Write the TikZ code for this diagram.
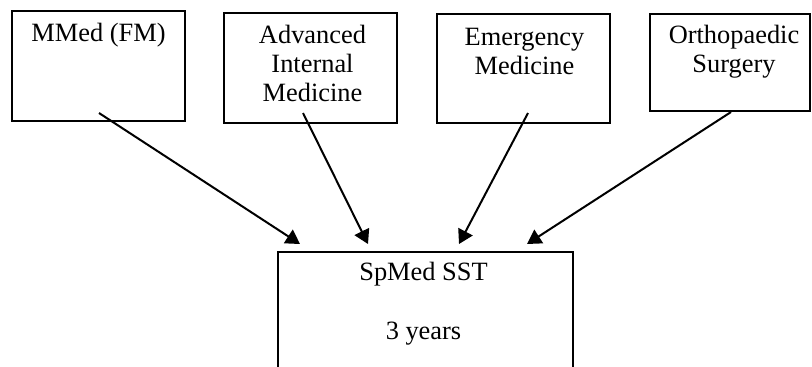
\documentclass[tikz,border=0pt]{standalone}
\usepackage{fontspec}
\setmainfont{Liberation Serif}
\usetikzlibrary{arrows.meta,calc}

\begin{document}
\begin{tikzpicture}[x=0.5pt,y=-0.5pt,
    box/.style={draw,line width=1pt,inner sep=0pt},
    boxtext/.style={anchor=north,inner sep=0pt,align=center,font=\fontsize{13.2}{14.5}\selectfont},
    feed/.style={-{Triangle[length=7pt,width=8pt]},line width=1pt}]
    %\draw[help lines] (0,0) grid (812,366);
    \clip (0,0) rectangle (812,366);

    % programmes on top
    \node[box,minimum width=86.5pt,minimum height=55pt] (mmed) at (98.5,66) {};
    \node[box,minimum width=86.5pt,minimum height=55pt] (aim) at (310.5,68) {};
    \node[box,minimum width=86.5pt,minimum height=54.5pt] (em) at (523.5,68.5) {};
    \node[box,minimum width=80pt,minimum height=48.5pt] (ortho) at (730,62.5) {};
    % target programme
    \node[box,minimum width=147.5pt,minimum height=60pt] (sst) at (425.5,312) {};

    \node[boxtext] (mmedtxt) at ($(mmed.north)+(0,11)$) {\strut MMed (FM)};
    \node[boxtext] (aimtxt) at ($(aim.north)+(2,11)$) {\strut Advanced\\Internal\\Medicine};
    \node[boxtext] (emtxt) at ($(em.north)+(1,12)$) {\strut Emergency\\Medicine};
    \node[boxtext] (orthotxt) at ($(ortho.north)+(4,10)$) {\strut Orthopaedic\\Surgery};
    \node[boxtext] (ssttxt) at ($(sst.north)+(-2,9)$) {\strut SpMed SST\\[15pt]3 years};

    \coordinate (mmedout) at ($(mmed.south)+(0.5,-9)$);
    \coordinate (aimout) at ($(aim.south)+(-7.5,-11)$);
    \coordinate (emout) at ($(em.south)+(4.5,-11)$);
    \coordinate (orthoout) at ($(ortho.south)+(1,0)$);
    \coordinate (sstin1) at ($(sst.north west)+(23,-7)$);
    \coordinate (sstin2) at ($(sst.north west)+(91,-7)$);
    \coordinate (sstin3) at ($(sst.north west)+(182,-7)$);
    \coordinate (sstin4) at ($(sst.north west)+(250,-7)$);

    \draw[feed] (mmedout) -- (sstin1);
    \draw[feed] (aimout) -- (sstin2);
    \draw[feed] (emout) -- (sstin3);
    \draw[feed] (orthoout) -- (sstin4);
\end{tikzpicture}
\end{document}
